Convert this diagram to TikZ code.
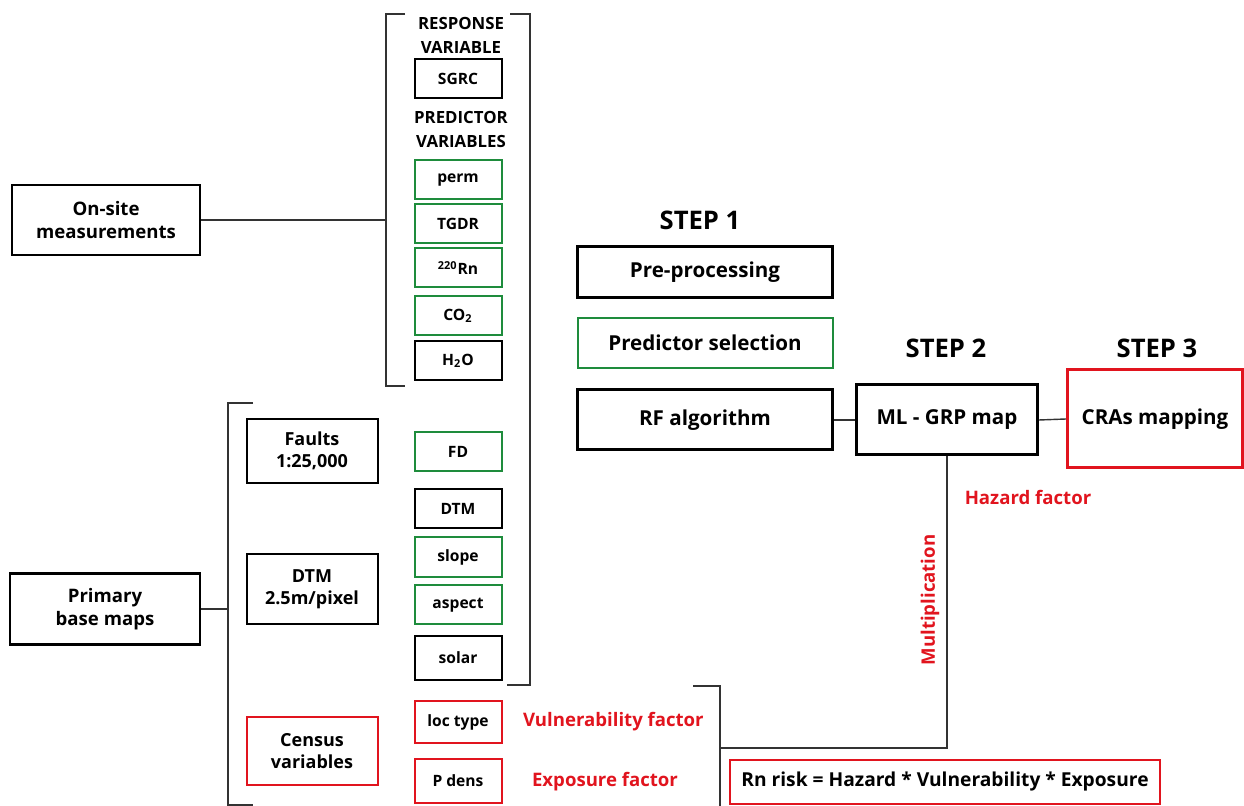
\documentclass[tikz,border=0pt]{standalone}
\usepackage{fontspec}
\setmainfont{Open Sans}
\definecolor{boxgreen}{RGB}{30,140,60}
\definecolor{boxred}{RGB}{225,20,30}
\tikzset{
  mainbox/.style={draw=black, line width=1.5pt, align=center, font=\fontsize{10.3}{12}\selectfont\bfseries, inner sep=0pt},
  varbox/.style={draw=black, line width=1pt, align=center, minimum width=43.5pt, minimum height=19.5pt, font=\fontsize{7.8}{9}\selectfont\bfseries, inner sep=0pt},
  greenvar/.style={varbox, draw=boxgreen},
  redvar/.style={varbox, draw=boxred},
  srcbox/.style={draw=black, line width=1pt, align=center, minimum width=65.5pt, font=\fontsize{9}{11}\selectfont\bfseries, inner sep=0pt},
  steplabel/.style={font=\fontsize{12.8}{14}\selectfont\bfseries},
  headlabel/.style={align=center, font=\fontsize{8.4}{12}\selectfont\bfseries},
  factorlabel/.style={text=boxred, font=\fontsize{9.3}{11}\selectfont\bfseries},
  link/.style={line width=0.7pt, draw=black!80},
}
\begin{document}
\begin{tikzpicture}[x=0.5pt, y=-0.5pt]
  \useasboundingbox (0,0) rectangle (1244,806);

  % data sources
  \node[mainbox, line width=1.2pt, minimum width=94pt, minimum height=35pt, font=\fontsize{9.3}{11.5}\selectfont\bfseries] (onsite) at (106,220) {On-site\\measurements};
  \node[mainbox, line width=1.2pt, minimum width=95pt, minimum height=35.5pt, font=\fontsize{9.3}{11.5}\selectfont\bfseries] (primary) at (105,609) {Primary\\base maps};
  \node[srcbox, minimum height=32pt] (faults) at (312,451) {Faults\\1:25,000};
  \node[srcbox, minimum height=35pt] (dtmmap) at (312,589) {DTM\\2.5m/pixel};
  \node[srcbox, draw=boxred, minimum height=34pt] (census) at (312,751) {Census\\variables};

  % variables
  \node[headlabel] (resp) at (461,35) {RESPONSE\\VARIABLE};
  \node[varbox] (sgrc) at (458,79) {SGRC};
  \node[headlabel] (pred) at (461,129) {PREDICTOR\\VARIABLES};
  \node[greenvar] (perm) at (458,180) {perm};
  \node[greenvar] (tgdr) at (458,224) {TGDR};
  \node[greenvar] (rn) at (458,268) {\textsuperscript{220}Rn};
  \node[greenvar] (co) at (458,316) {CO\textsubscript{2}};
  \node[varbox] (ho) at (458,361) {H\textsubscript{2}O};
  \node[greenvar] (fd) at (458,452) {FD};
  \node[varbox] (dtm) at (458,509) {DTM};
  \node[greenvar, minimum height=20pt] (slope) at (458,557) {slope};
  \node[greenvar] (aspect) at (458,605) {aspect};
  \node[varbox, minimum height=22pt] (solar) at (458,658) {solar};
  \node[redvar, minimum height=21pt] (loctype) at (458,722) {loc type};
  \node[redvar, minimum height=22pt] (pdens) at (458,781) {P dens};

  \node[factorlabel, anchor=west] (vuln) at (516,722) {Vulnerability factor};
  \node[factorlabel, anchor=west] (expo) at (525,782) {Exposure factor};

  % brackets
  \draw[link] (405,14) -- (386,14) -- (386,386) -- (405,386);
  \draw[link] (510,14) -- (530,14) -- (530,685) -- (507,685);
  \draw[link] (253,403) -- (228,403) -- (228,805) -- (253,805);
  \draw[link] (onsite.east) -- (386,220);
  \draw[link] (primary.east) -- (228,609);

  % steps
  \node[steplabel] (step1) at (700,220) {STEP 1};
  \node[mainbox, minimum width=127.5pt, minimum height=25.5pt] (pre) at (705,272) {Pre-processing};
  \node[mainbox, draw=boxgreen, line width=1pt, minimum width=127.5pt, minimum height=25pt] (predsel) at (705,343) {Predictor selection};
  \node[mainbox, minimum width=127.5pt, minimum height=30pt] (rf) at (705,420) {RF algorithm};
  \node[steplabel] (step2) at (946,348) {STEP 2};
  \node[mainbox, minimum width=90.5pt, minimum height=35pt] (ml) at (947,420) {ML - GRP map};
  \node[steplabel] (step3) at (1157,348) {STEP 3};
  \node[mainbox, draw=boxred, minimum width=87.5pt, minimum height=49pt] (cras) at (1155,419) {CRAs mapping};
  \node[mainbox, draw=boxred, line width=1.2pt, minimum width=215pt, minimum height=22pt, font=\fontsize{9.6}{11}\selectfont\bfseries] (risk) at (945,782) {Rn risk = Hazard * Vulnerability * Exposure};

  \draw[link] (rf.east) -- (ml.west);
  \draw[link] (ml.east) -- (cras.west);
  \coordinate (corner) at (947,748);
  \draw[link] (ml.south) -- (corner) -- (720,748);
  \draw[link] (693,686) -- (720,686) -- (720,806);

  \node[factorlabel] (hazard) at (1028,497) {Hazard factor};
  \node[factorlabel, rotate=90] (mult) at (930,600) {Multiplication};
\end{tikzpicture}
\end{document}
